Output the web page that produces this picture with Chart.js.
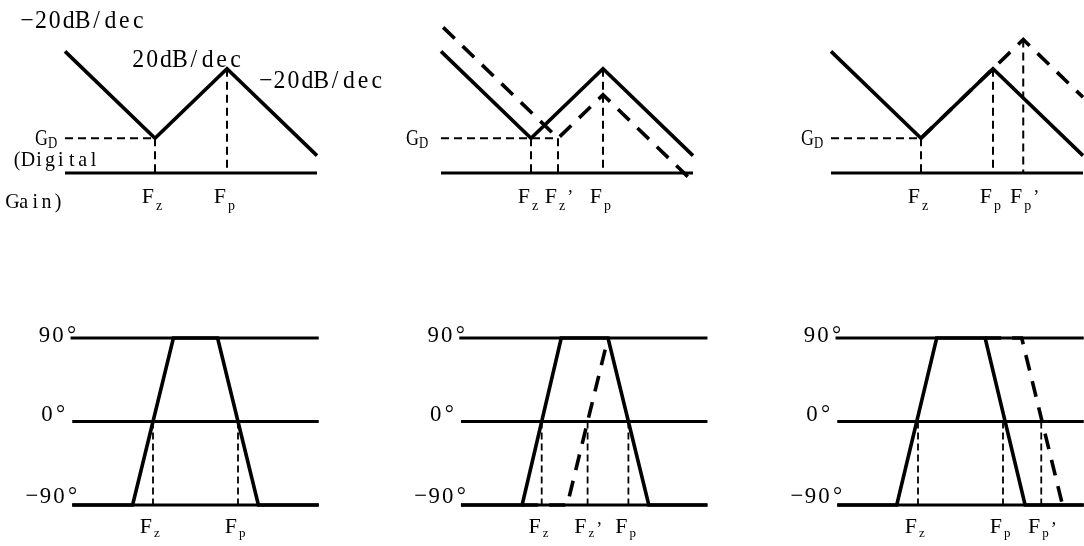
<!DOCTYPE html>
<html>
<head>
<meta charset="utf-8">
<script src="https://cdn.jsdelivr.net/npm/chart.js@4.4.1/dist/chart.umd.min.js"></script>
<style>
    html, body { margin: 0; padding: 0; background: #fff; }
    #wrap { position: relative; width: 1084px; height: 546px; overflow: hidden; background: #fff; }
    #wrap canvas { position: absolute; left: 0; top: 0; }
</style>
</head>
<body>
<div id="wrap">
    <canvas id="mag1" width="1084" height="546"></canvas>
    <canvas id="mag2" width="1084" height="546"></canvas>
    <canvas id="mag3" width="1084" height="546"></canvas>
    <canvas id="ph1" width="1084" height="546"></canvas>
    <canvas id="ph2" width="1084" height="546"></canvas>
    <canvas id="ph3" width="1084" height="546"></canvas>
</div>
<script>
// Top row: gain (dB) against log frequency (decades), Fz sits at decade 1
const gainAxisX = [-0.25, 3.25];
const gainAxisY = [-10, -10];
const gainGd = 0;

const mag1SolidX = [-0.25, 1, 2, 3.25];
const mag1SolidY = [25, 0, 20, -5];
const mag1FreqX = [1, 2];
const mag1FreqTop = [0, 20];
const mag1FreqNames = ['Fz', 'Fp'];
const mag1Notes = ['\u221220dB/dec', '20dB/dec', '\u221220dB/dec', '(Digital', 'Gain)'];

const mag2SolidX = [-0.25, 1, 2, 3.25];
const mag2SolidY = [25, 0, 20, -5];
const mag2DashX = [-0.22, 1.375, 2, 3.25];
const mag2DashY = [31.9, 0, 12.5, -12.5];
const mag2FreqX = [1, 1.375, 2];
const mag2FreqTop = [0, 0, 20];
const mag2FreqNames = ['Fz', "Fz'", 'Fp'];

const mag3SolidX = [-0.25, 1, 2, 3.25];
const mag3SolidY = [25, 0, 20, -5];
const mag3DashX = [1, 2.42, 3.25];
const mag3DashY = [0, 28.4, 11.8];
const mag3FreqX = [1, 2, 2.42];
const mag3FreqTop = [0, 20, 28.4];
const mag3FreqNames = ['Fz', 'Fp', "Fp'"];

// Bottom row: phase (degrees)
const phaseLevels = [90, 0, -90];
const phaseLabels = ['90\u00b0', '0\u00b0', '\u221290\u00b0'];
const phaseAxisX = [0.05, 2.95];

const ph1SolidX = [0.05, 0.76, 1.24, 1.76, 2.24, 2.95];
const ph1SolidY = [-90, -90, 90, 90, -90, -90];
const ph1FreqX = [1, 2];
const ph1FreqNames = ['Fz', 'Fp'];

const ph2SolidX = [0.05, 0.77, 1.23, 1.78, 2.26, 2.95];
const ph2SolidY = [-90, -90, 90, 90, -90, -90];
const ph2DashX = [0.77, 1.30, 1.78];
const ph2DashY = [-90, -90, 90];
const ph2FreqX = [1, 1.54, 2.02];
const ph2FreqNames = ['Fz', "Fz'", 'Fp'];

const ph3SolidX = [0.05, 0.75, 1.22, 1.79, 2.26, 2.95];
const ph3SolidY = [-90, -90, 90, 90, -90, -90];
const ph3DashX = [1.79, 2.22, 2.70];
const ph3DashY = [90, 90, -90];
const ph3FreqX = [1, 2, 2.45];
const ph3FreqNames = ['Fz', 'Fp', "Fp'"];

const W = 1084, H = 546;
const SERIF = '"Liberation Serif", "DejaVu Serif", serif';

const STYLES = {
    axis: { borderWidth: 3 },
    solid: { borderWidth: 3.6 },
    dashed: { borderWidth: 3.6, borderDash: [16, 11] },
    guide: { borderWidth: 2, borderDash: [8, 5] },
    guideSmall: { borderWidth: 1.8, borderDash: [7, 4] }
};

function line(xs, ys, style) {
    return Object.assign({
        data: xs.map((x, i) => ({ x: x, y: ys[i] })),
        showLine: true,
        pointRadius: 0,
        borderColor: '#000',
        borderJoinStyle: 'miter',
        borderCapStyle: 'butt',
        tension: 0,
        clip: false
    }, STYLES[style]);
}

// text set in fixed cells, like the half-width CJK font of the original
function drawCells(ctx, text, x, y, cell, align, squeeze) {
    const chars = Array.from(text);
    const total = chars.length * cell;
    const start = align === 'right' ? x - total : (align === 'center' ? x - total / 2 : x);
    ctx.textAlign = 'center';
    chars.forEach((c, i) => {
        ctx.save();
        ctx.translate(start + cell * (i + 0.5), y);
        ctx.scale(squeeze || 0.92, 1);
        ctx.fillText(c, 0, 0);
        ctx.restore();
    });
}

// draws the frequency names, G_D and the free notes
const panelText = {
    id: 'panelText',
    afterDatasetsDraw(chart, args, o) {
        const ctx = chart.ctx;
        const sx = chart.scales.x, sy = chart.scales.y;
        ctx.save();
        ctx.fillStyle = '#000';
        ctx.textBaseline = 'alphabetic';

        const base = sy.getPixelForValue(o.nameAt) + o.nameDy;
        o.freqX.forEach((v, i) => {
            const px = sx.getPixelForValue(v);
            const name = o.freqNames[i];
            ctx.font = o.fFont;
            ctx.textAlign = 'right';
            ctx.fillText(name[0], px - 1, base);
            ctx.font = o.subFont;
            ctx.textAlign = 'left';
            ctx.fillText(name[1], px + 1, base + o.subDy);
            if (name.length > 2) {
                const w = ctx.measureText(name[1]).width;
                ctx.font = '18px ' + SERIF;
                ctx.fillText('\u2019', px + 3 + w, base + o.primeDy);
            }
        });

        if (o.gdGap) {
            const left = chart.chartArea.left - o.gdGap;
            const gy = sy.getPixelForValue(gainGd);
            ctx.font = '16px ' + SERIF;
            drawCells(ctx, 'D', left, gy + 10, 9, 'right', 0.8);
            ctx.font = '23px ' + SERIF;
            drawCells(ctx, 'G', left - 9, gy + 7, 13, 'right', 0.78);
        }

        (o.notes || []).forEach(n => {
            ctx.font = n.font;
            drawCells(ctx, n.text, sx.getPixelForValue(n.x) + (n.dx || 0), sy.getPixelForValue(n.y) + (n.dy || 0),
                n.cell, n.align || 'left', n.squeeze);
        });
        ctx.restore();
    }
};

function makePanel(id, geo, datasets, text) {
    new Chart(document.getElementById(id), {
        type: 'scatter',
        data: { datasets: datasets },
        options: {
            responsive: false,
            animation: false,
            devicePixelRatio: 1,
            events: [],
            layout: { padding: geo.padding },
            plugins: {
                legend: { display: false },
                tooltip: { enabled: false },
                panelText: text
            },
            scales: {
                x: { type: 'linear', display: false, min: geo.xMin, max: geo.xMax },
                y: { type: 'linear', display: false, min: geo.yMin, max: geo.yMax }
            }
        },
        plugins: [panelText]
    });
}

// gain panels: 72 px per decade, 3.475 px per dB, axis line at y=173
function gainGeo(fzPx) {
    const xMin = gainAxisX[0], xMax = gainAxisX[1], yMin = -10, yMax = 35;
    const baseY = 173, dec = 72, db = 3.475;
    return {
        xMin, xMax, yMin, yMax,
        padding: {
            left: fzPx + (xMin - 1) * dec,
            right: W - (fzPx + (xMax - 1) * dec),
            top: baseY - (yMax - yMin) * db,
            bottom: H - baseY
        }
    };
}

// phase panels: 85 px per decade, 90deg at y=338, -90deg at y=505
function phaseGeo(fzPx) {
    const xMin = phaseAxisX[0], xMax = phaseAxisX[1];
    return {
        xMin, xMax, yMin: -90, yMax: 90,
        padding: {
            left: fzPx + (xMin - 1) * 85,
            right: W - (fzPx + (xMax - 1) * 85),
            top: 338,
            bottom: H - 505
        }
    };
}

function gainSets(solidX, solidY, dashX, dashY, freqX, freqTop, gdEnd) {
    const sets = [line(solidX, solidY, 'solid')];
    if (dashX) sets.push(line(dashX, dashY, 'dashed'));
    sets.push(line([gainAxisX[0], gdEnd], [gainGd, gainGd], 'guide'));
    freqX.forEach((v, i) => sets.push(line([v, v], [freqTop[i], gainAxisY[0]], 'guide')));
    sets.push(line(gainAxisX, gainAxisY, 'axis'));
    return sets;
}

function phaseSets(solidX, solidY, dashX, dashY, freqX) {
    const sets = [line(solidX, solidY, 'solid')];
    if (dashX) sets.push(line(dashX, dashY, 'dashed'));
    freqX.forEach(v => sets.push(line([v, v], [0, -90], 'guideSmall')));
    phaseLevels.forEach(lv => {
        const start = lv === 90 ? phaseAxisX[0] - 0.02 : phaseAxisX[0];
        sets.push(line([start, phaseAxisX[1]], [lv, lv], 'axis'));
    });
    return sets;
}

const gainText = (freqX, freqNames, gdGap, notes) => ({
    freqX, freqNames, nameAt: gainAxisY[0], nameDy: 30, subDy: 7, primeDy: 0,
    fFont: '22px ' + SERIF, subFont: '14px ' + SERIF, gdGap, notes
});

const phaseNoteDx = [6, -5, 7];
const phaseNoteDy = [4, -1, -2];
const phaseText = (freqX, freqNames) => ({
    freqX, freqNames, nameAt: -90, nameDy: 28, subDy: 4, primeDy: 2,
    fFont: '22px ' + SERIF, subFont: '13px ' + SERIF,
    notes: phaseLevels.map((lv, i) => ({
        text: phaseLabels[i], x: phaseAxisX[0], y: lv, dx: phaseNoteDx[i], dy: phaseNoteDy[i],
        align: 'right', font: '24px ' + SERIF, cell: 13.5, squeeze: 0.95
    }))
});

// panel 1 notes, anchored in its own decade / dB units
const mag1NoteX = [-0.875, 0.67, 2.44, -0.99, -1.06];
const mag1NoteY = [31.7, 20.5, 14.5, -8, -20.1];
const mag1NoteSize = [25, 25, 25, 21, 21];
const mag1NoteCell = [13.9, 13.9, 13.9, 10.9, 11.4];

makePanel('mag1', gainGeo(155),
    gainSets(mag1SolidX, mag1SolidY, null, null, mag1FreqX, mag1FreqTop, 1),
    gainText(mag1FreqX, mag1FreqNames, 8, mag1Notes.map((t, i) => ({
        text: t, x: mag1NoteX[i], y: mag1NoteY[i], font: mag1NoteSize[i] + 'px ' + SERIF,
        cell: mag1NoteCell[i], squeeze: 0.95
    }))));

makePanel('mag2', gainGeo(531),
    gainSets(mag2SolidX, mag2SolidY, mag2DashX, mag2DashY, mag2FreqX, mag2FreqTop, 1.375),
    gainText(mag2FreqX, mag2FreqNames, 13, []));

makePanel('mag3', gainGeo(921),
    gainSets(mag3SolidX, mag3SolidY, mag3DashX, mag3DashY, mag3FreqX, mag3FreqTop, 1),
    gainText(mag3FreqX, mag3FreqNames, 8, []));

makePanel('ph1', phaseGeo(153),
    phaseSets(ph1SolidX, ph1SolidY, null, null, ph1FreqX),
    phaseText(ph1FreqX, ph1FreqNames));

makePanel('ph2', phaseGeo(541.7),
    phaseSets(ph2SolidX, ph2SolidY, ph2DashX, ph2DashY, ph2FreqX),
    phaseText(ph2FreqX, ph2FreqNames));

makePanel('ph3', phaseGeo(918),
    phaseSets(ph3SolidX, ph3SolidY, ph3DashX, ph3DashY, ph3FreqX),
    phaseText(ph3FreqX, ph3FreqNames));
</script>
</body>
</html>
